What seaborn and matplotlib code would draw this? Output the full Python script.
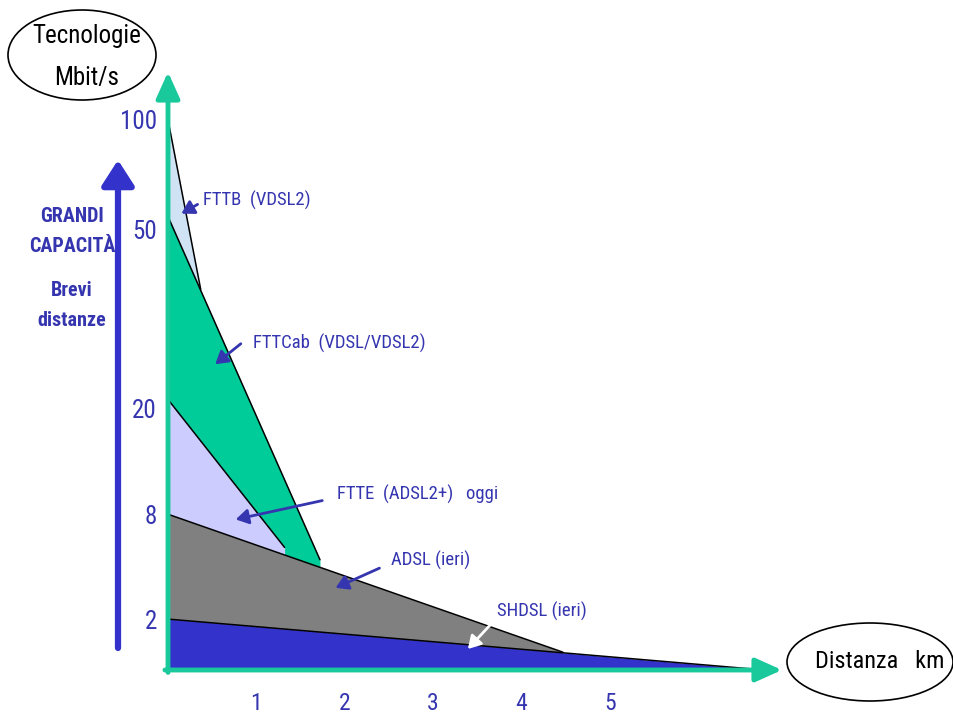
import numpy as np
import matplotlib.pyplot as plt
import seaborn as sns
from matplotlib.patches import Ellipse, FancyArrowPatch

sns.set_theme(style="white")
plt.rcParams["font.family"] = ["Liberation Sans Narrow", "DejaVu Sans Condensed",
                               "Roboto Condensed", "Roboto", "DejaVu Sans"]

# axis ticks
mbit_ticks = [2, 8, 20, 50, 100]
km_ticks = [1, 2, 3, 4, 5]

# technologies, drawn back to front
techs = ["FTTB", "FTTCab", "FTTE", "ADSL", "SHDSL"]
start_mbit = [100, 56, 21.5, 8, 2]      # speed at 0 km
end_km = [0.37, 1.72, 1.32, 4.47, 6.75]  # where the band ends
end_mbit = [40, 5.4, 6.1, 0.7, 0]        # speed at the end point
colors = ["#cfe3f5", "#00cc99", "#ccccff", "#808080", "#3333cc"]
labels = ["FTTB  (VDSL2)", "FTTCab  (VDSL/VDSL2)", "FTTE  (ADSL2+)   oggi",
          "ADSL (ieri)", "SHDSL (ieri)"]

# non-linear vertical scale of the sketch (speed -> height)
scale_mbit = [0, 2, 8, 20, 50, 100, 150]
scale_height = [0, 51, 156, 262, 441, 551, 661]

def fwd(v):
    return np.interp(v, scale_mbit, scale_height)

def inv(h):
    return np.interp(h, scale_height, scale_mbit)

W, H = 954, 714
def px(x, y):
    return (x / W, 1 - y / H)

blue_txt = "#3535b0"
green = "#19c99c"

fig = plt.figure(figsize=(9.54, 7.14), dpi=100)
ax = fig.add_axes([168 / W, 44 / H, 614 / W, 598 / H])
ax.set_yscale("function", functions=(fwd, inv))

for i, t in enumerate(techs):
    xs = [0, end_km[i]]
    ys = [start_mbit[i], end_mbit[i]]
    ax.fill_between(xs, ys, 0, color=colors[i], lw=0)
    sns.lineplot(x=xs, y=ys, ax=ax, color="black", lw=1.1, sort=False)
ax.plot([0, end_km[-1]], [0, 0], color="black", lw=1.5)

ax.set_xlim(0, 6.95)
ax.set_ylim(0, 121.8)
for s in ax.spines.values():
    s.set_visible(False)

ax.set_yticks(mbit_ticks)
ax.set_yticklabels([str(v) for v in mbit_ticks])
ax.set_xticks(km_ticks)
ax.set_xticklabels([str(v) for v in km_ticks])
ax.tick_params(axis="y", length=0, pad=8, labelsize=18, labelcolor=blue_txt)
ax.tick_params(axis="x", length=0, pad=16, labelsize=17, labelcolor=blue_txt)
ax.grid(False)

# green axis arrows
arr = dict(arrowstyle="-|>,head_length=1.0,head_width=0.45", color=green,
           lw=3.5, mutation_scale=16, shrinkA=0, shrinkB=0)
ax.annotate("", xy=(1.0, 0), xytext=(-0.005, 0), xycoords="axes fraction",
            arrowprops=arr, annotation_clip=False)
ax.annotate("", xy=(0, 1.0), xytext=(0, -0.004), xycoords="axes fraction",
            arrowprops=arr, annotation_clip=False)

# labels with arrows
label_pos = [(203, 200), (253, 343), (337, 494), (391, 560), (497, 611)]
arrow_from = [(200, 203), (243, 342), (325, 500), (382, 567), (492, 623)]
arrow_to = [(179, 215), (213, 366), (233, 520), (333, 589), (466, 651)]
arrow_cols = [blue_txt, blue_txt, blue_txt, blue_txt, "white"]
for lab, p, a0, a1, c in zip(labels, label_pos, arrow_from, arrow_to, arrow_cols):
    fig.text(*px(*p), lab, color=blue_txt, fontsize=13.5, ha="left", va="center")
    fig.add_artist(FancyArrowPatch(
        px(*a0), px(*a1), transform=fig.transFigure, color=c, lw=2.0,
        arrowstyle="-|>,head_length=5,head_width=3", mutation_scale=1.5))

# left blue arrow and text
fig.add_artist(FancyArrowPatch(
    px(118, 648), px(118, 160), transform=fig.transFigure, color="#3333cc",
    lw=4.5, arrowstyle="-|>,head_length=7,head_width=4.5", mutation_scale=2.2,
    shrinkA=0, shrinkB=0))
for txt, y in [("GRANDI", 216), ("CAPACITÀ", 246), ("Brevi", 291), ("distanze", 321)]:
    fig.text(*px(72, y), txt, color=blue_txt, fontsize=14.5, ha="center",
             va="center", fontweight="bold")

# ellipses
fig.add_artist(Ellipse(px(82, 55), 148 / W, 90 / H, transform=fig.transFigure,
                       fill=False, ec="black", lw=1.2))
fig.text(*px(87, 36), "Tecnologie", fontsize=18, ha="center", va="center", color="black")
fig.text(*px(87, 78), "Mbit/s", fontsize=18, ha="center", va="center", color="black")
fig.add_artist(Ellipse(px(870, 662), 166 / W, 78 / H, transform=fig.transFigure,
                       fill=False, ec="black", lw=1.2))
fig.text(*px(880, 662), "Distanza   km", fontsize=17.5, ha="center", va="center", color="black")

fig.savefig("out.png", dpi=100)
